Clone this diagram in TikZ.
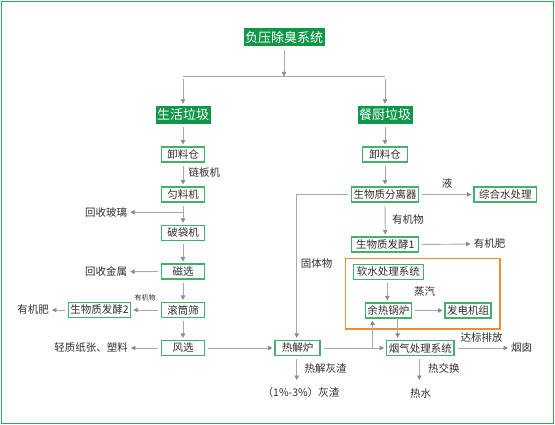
\documentclass[tikz,border=0pt]{standalone}
\usepackage{fontspec}
\setmainfont{Noto Sans CJK SC}
\usetikzlibrary{arrows.meta}
\definecolor{frameg}{RGB}{60,160,95}
\definecolor{boxg}{RGB}{70,175,110}
\definecolor{fillg}{RGB}{16,150,72}
\definecolor{lineg}{RGB}{168,168,168}
\definecolor{tipg}{RGB}{140,140,140}
\definecolor{txt}{RGB}{45,45,45}
\definecolor{orng}{RGB}{238,140,55}
\tikzset{
  tbox/.style={fill=fillg,text=white,inner xsep=1.5pt,inner ysep=0pt,minimum height=18pt,font=\fontsize{13}{14}\selectfont},
  gbox/.style={draw=boxg,line width=1.1pt,fill=white,text=txt,inner xsep=2pt,inner ysep=0pt,minimum height=15pt,font=\fontsize{10.5}{12}\selectfont},
  lab/.style={text=txt,inner sep=1pt,font=\fontsize{10.5}{12}\selectfont},
  smlab/.style={text=txt,inner sep=0.5pt,font=\fontsize{7}{8}\selectfont},
  arr/.style={draw=lineg,line width=0.9pt,-{Triangle[length=4.5pt,width=4.5pt,color=tipg]},shorten >=2pt,shorten <=3pt},
  ln/.style={draw=lineg,line width=0.9pt}
}
\begin{document}
\begin{tikzpicture}[x=1pt,y=-1pt]
\useasboundingbox (0,0) rectangle (555,425);
\draw[frameg,line width=1.2pt] (1.5,1.5) rectangle (553.5,423.5);

% top
\node[tbox] (top) at (284,37.5) {负压除臭系统};
\node[tbox] (sh) at (183,115) {生活垃圾};
\node[tbox] (cc) at (385,115) {餐厨垃圾};
\coordinate (j0) at (284,76.5);
\coordinate (jl) at (183,76.5);
\coordinate (jr) at (385,76.5);
\draw[arr,shorten >=0pt] (top.south) -- (j0);
\draw[ln] (jl) -- (jr);
\draw[arr] (jl) -- (sh.north);
\draw[arr] (jr) -- (cc.north);

% left column
\node[gbox,minimum width=43pt] (xl1) at (183,154.5) {卸料仓};
\node[gbox,minimum width=43pt] (yl) at (183,194.5) {匀料机};
\node[gbox,minimum width=43pt] (pd) at (183,233) {破袋机};
\node[gbox,minimum width=43pt] (cx) at (183,271.5) {磁选};
\node[gbox,minimum width=43pt] (gt) at (183,310) {滚筒筛};
\node[gbox,minimum width=43pt] (fx) at (183,348) {风选};
\node[gbox,minimum width=61pt] (fj2) at (99.5,310) {生物质发酵2};

\node[lab,anchor=west] (lbj) at (187.5,173) {链板机};
\node[lab] (hsbl) at (106,212.3) {回收玻璃};
\node[lab] (hsjs) at (106,271.7) {回收金属};
\node[lab] (yjfl) at (33,310) {有机肥};
\node[lab] (qz) at (91,348) {轻质纸张、塑料};
\node[smlab] (yjw2) at (145,298) {有机物};

\draw[arr] (sh.south) -- (xl1.north);
\draw[arr] (xl1.south) -- (yl.north);
\draw[arr] (yl.south) -- (pd.north);
\coordinate (g1) at (183,212.3);
\draw[arr,shorten <=0pt] (g1) -- (hsbl.east);
\draw[arr] (pd.south) -- (cx.north);
\draw[arr] (cx.west) -- (hsjs.east);
\draw[arr] (cx.south) -- (gt.north);
\draw[arr] (gt.west) -- (fj2.east);
\draw[arr] (fj2.west) -- (yjfl.east);
\draw[arr] (gt.south) -- (fx.north);
\draw[arr] (fx.west) -- (qz.east);

% right column
\node[gbox,minimum width=45pt] (xl2) at (385,154.5) {卸料仓};
\node[gbox,minimum width=67pt] (fl) at (385,194.5) {生物质分离器};
\node[gbox,minimum width=62.7pt] (zh) at (505.3,194.5) {综合水处理};
\node[gbox,minimum width=67pt] (fj1) at (385.3,244.5) {生物质发酵1};
\node[lab] (yjfr) at (489.5,244) {有机肥};
\node[lab] (ye) at (447,183) {液};
\node[lab,anchor=west] (yjw1) at (391,220) {有机物};

\draw[arr] (cc.south) -- (xl2.north);
\draw[arr] (xl2.south) -- (fl.north);
\draw[arr] (fl.east) -- (zh.west);
\draw[arr] (fl.south) -- (fj1.north);
\draw[arr] (fj1.east) -- (yjfr.west);

% lower part
\node[gbox,minimum width=45pt] (rjl) at (297.5,348) {热解炉};
\node[gbox,minimum width=67.3pt] (yq) at (420.3,348) {烟气处理系统};
\draw[orng,line width=1.1pt] (345.7,258.3) rectangle (500,329);
\node[gbox,minimum width=70pt] (rs) at (388.3,271.8) {软水处理系统};
\node[gbox,minimum width=44.7pt] (yr) at (388.3,310.5) {余热锅炉};
\node[gbox,minimum width=45.7pt] (fd) at (468,310.5) {发电机组};
\node[lab] (zq) at (424.5,291.7) {蒸汽};
\node[lab] (gtw) at (316.7,264) {固体物};
\node[lab] (dbpf) at (481.7,337.7) {达标排放};
\node[lab] (yc) at (521.7,348) {烟囱};
\node[lab] (rjh) at (443.8,368.3) {热交换};
\node[lab] (rs2) at (420.5,393.3) {热水};
\node[lab] (rjhz) at (325.5,368.3) {热解灰渣};
\node[lab] (hz) at (301,392.7) {（1\%-3\%）灰渣};

\coordinate (fk) at (296.7,194.5);
\draw[ln,shorten <=3pt] (fl.west) -- (fk);
\draw[arr,shorten <=0pt] (fk) -- (fk |- rjl.north);
\draw[arr] (fx.east) -- (rjl.west);
\draw[arr] (rjl.east) -- (yq.west);
\coordinate (up1) at (372.5,348);
\draw[arr,shorten <=0pt] (up1) -- (up1 |- yr.south);
\coordinate (dn1) at (397.7,318.3);
\draw[arr,shorten <=0pt] (dn1) -- (dn1 |- yq.north);
\draw[arr] (rs.south -| 387.3,0) -- (yr.north -| 387.3,0);
\draw[arr] (yr.east) -- (fd.west);
\draw[arr] (yq.east) -- (yc.west);
\coordinate (rjd) at (296.7,380);
\draw[arr,shorten >=0pt] (rjl.south -| rjd) -- (rjd);
\coordinate (yqd) at (419.3,380);
\draw[arr,shorten >=0pt] (yq.south -| yqd) -- (yqd);
\end{tikzpicture}
\end{document}
